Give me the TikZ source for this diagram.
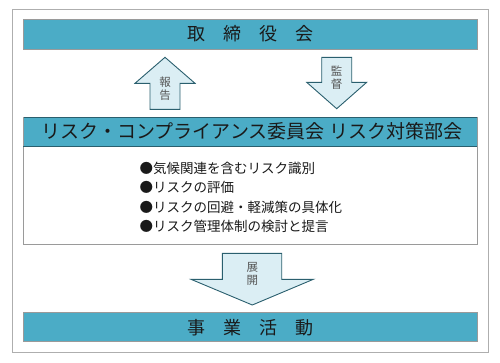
\documentclass[tikz,border=0pt]{standalone}
\usepackage{fontspec}
\setmainfont{Noto Sans CJK JP}
\definecolor{barblue}{HTML}{4BACC6}
\definecolor{arrfill}{HTML}{DBEEF4}
\definecolor{arrline}{HTML}{2A5F6E}
\definecolor{framegray}{HTML}{9A9A9A}
\definecolor{txt}{HTML}{1A1A1A}
\definecolor{lbl}{HTML}{555555}
\tikzset{
  bar/.style={draw=framegray, line width=1pt, fill=barblue},
  arrowshape/.style={draw=arrline, fill=arrfill, line width=0.9pt, line join=miter},
  bartext/.style={font=\fontsize{18}{20}\selectfont, text=txt},
  headtext/.style={font=\fontsize{19}{21}\selectfont, text=txt},
  arrlabel/.style={font=\fontsize{11.5}{13}\selectfont, text=lbl, align=center},
  bullettext/.style={font=\fontsize{13.5}{19.5}\selectfont, text=txt, align=left, anchor=north west, inner sep=0pt}
}
\begin{document}
\begin{tikzpicture}[x=1pt,y=-1pt]
\useasboundingbox (0,0) rectangle (500,362);
% outer frame
\draw[draw=framegray!80, line width=1pt] (12,9.5) rectangle (488,352);
% top bar
\draw[bar] (23,19.5) rectangle (477,49);
\node[bartext] (board) at (250,34) {取\hspace{1em}締\hspace{1em}役\hspace{1em}会};
% up arrow
\draw[arrowshape] (150,109.3) -- (150,83.3) -- (135,83.3) -- (165,57.3) -- (195,83.3) -- (180,83.3) -- (180,109.3) -- cycle;
\node[arrlabel] (report) at (165,88.5) {報\\告};
% down arrow
\draw[arrowshape] (321.7,57.3) -- (351.7,57.3) -- (351.7,82.3) -- (366.7,82.3) -- (336.7,108.7) -- (306.7,82.3) -- (321.7,82.3) -- cycle;
\node[arrlabel] (audit) at (336.7,77.5) {監\\督};
% committee box
\draw[draw=framegray, line width=1pt, fill=white] (23,146) rectangle (477,244.3);
\fill[barblue] (23,117.3) rectangle (477,146);
\draw[draw=arrline, line width=0.9pt] (23,117.3) -- (477,117.3);
\draw[draw=arrline, line width=1pt] (23,146) -- (477,146);
\draw[draw=framegray, line width=1pt] (23,117.3) -- (23,146) (477,117.3) -- (477,146);
\node[headtext] (comm) at (252,131.7) {リスク・コンプライアンス委員会 リスク対策部会};
\node[bullettext] (list) at (139.5,161.5) {●気候関連を含むリスク識別\\●リスクの評価\\●リスクの回避・軽減策の具体化\\●リスク管理体制の検討と提言};
% deploy arrow
\draw[arrowshape] (222.3,253.3) -- (281.7,253.3) -- (281.7,279.3) -- (313.3,279.3) -- (252.3,305) -- (191,279.3) -- (222.3,279.3) -- cycle;
\node[arrlabel] (deploy) at (252.3,273.5) {展\\開};
% bottom bar
\draw[bar] (23,312.7) rectangle (477,341.7);
\node[bartext] (biz) at (250,327.2) {事\hspace{1em}業\hspace{1em}活\hspace{1em}動};
\end{tikzpicture}
\end{document}
